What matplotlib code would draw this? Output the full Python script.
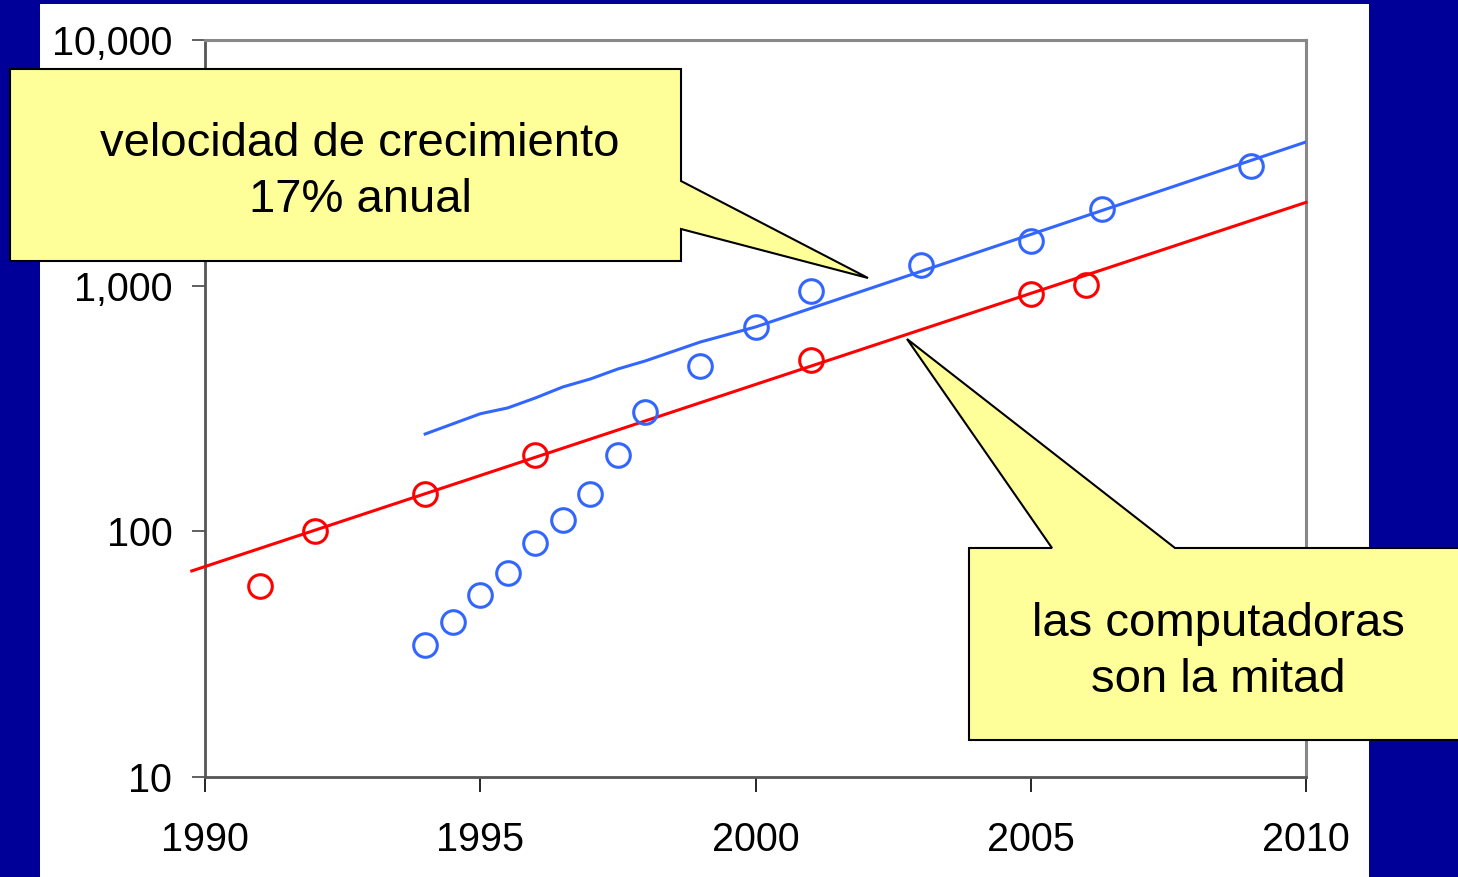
import matplotlib as mpl
import matplotlib.pyplot as plt
from matplotlib.patches import Polygon, Rectangle
from matplotlib.ticker import FixedLocator, FuncFormatter, NullLocator

mpl.rcParams['font.family'] = ['Liberation Sans', 'DejaVu Sans']

# datos
rojo_x = [1991, 1992, 1994, 1996, 2001, 2005, 2006]
rojo_y = [60, 100, 142, 205, 498, 925, 1006]
azul_x = [1994, 1994.5, 1995, 1995.5, 1996, 1996.5, 1997, 1997.5, 1998, 1999, 2000, 2001, 2003, 2005, 2006.3, 2009]
azul_y = [34.5, 42.8, 55, 67.7, 89.6, 111, 142, 205, 306, 471, 679, 951, 1213, 1520, 2050, 3070]
tend_rojo_x = [1989.76, 2010]
tend_rojo_y = [69, 2183]
tend_azul_x = [1994, 1995, 1995.5, 1996, 1996.5, 1997, 1997.5, 1998, 1999, 2000, 2010]
tend_azul_y = [249, 301, 318, 349, 387, 417, 458, 494, 590, 679, 3846]
anios = [1990, 1995, 2000, 2005, 2010]
niveles = [10, 100, 1000, 10000]

W, H = 1458, 877
AZUL = '#3366FF'
ROJO = '#FF0000'
AMARILLO = '#FFFF99'

fig = plt.figure(figsize=(W / 100, H / 100), dpi=100, facecolor='#000099')


def px(x, y):
    return (x / W, 1 - y / H)


# panel blanco
fig.add_artist(Rectangle(px(40, 877), 1329 / W, 873 / H, transform=fig.transFigure,
                         facecolor='white', edgecolor='none', zorder=-1))

ax = fig.add_axes([205 / W, 1 - 777 / H, 1101 / W, 737 / H])
ax.set_facecolor('white')
ax.set_yscale('log')
ax.set_xlim(1990, 2010)
ax.set_ylim(10, 10000)

ax.plot(tend_rojo_x, tend_rojo_y, color=ROJO, lw=2.2, clip_on=False, zorder=3)
ax.plot(tend_azul_x, tend_azul_y, color=AZUL, lw=2.2, zorder=3)
ax.plot(rojo_x, rojo_y, 'o', mfc='none', mec=ROJO, ms=17, mew=2.2, zorder=4)
ax.plot(azul_x, azul_y, 'o', mfc='none', mec=AZUL, ms=17, mew=2.2, zorder=4)

ax.xaxis.set_major_locator(FixedLocator(anios))
ax.yaxis.set_major_locator(FixedLocator(niveles))
ax.yaxis.set_minor_locator(NullLocator())
ax.yaxis.set_major_formatter(FuncFormatter(lambda v, p: f'{int(v):,}'))
ax.xaxis.set_major_formatter(FuncFormatter(lambda v, p: f'{int(v)}'))
ax.tick_params(axis='y', direction='out', length=9.5, width=1.2, color='#444444',
               labelsize=28.5, pad=14)
ax.tick_params(axis='x', direction='out', length=10.5, width=1.2, color='black',
               labelsize=28.5, pad=21)

for s in ['top', 'right']:
    ax.spines[s].set_color('#888888')
    ax.spines[s].set_linewidth(2.2)
for s in ['left', 'bottom']:
    ax.spines[s].set_color('#555555')
    ax.spines[s].set_linewidth(2.0)

# globos de texto
globo1 = [(10, 69), (681, 69), (681, 181), (868, 278), (681, 229), (681, 261), (10, 261)]
globo2 = [(969, 548), (1052, 548), (907, 339), (1175, 548), (1470, 548), (1470, 740), (969, 740)]
for g in (globo1, globo2):
    fig.add_artist(Polygon([px(*p) for p in g], closed=True, transform=fig.transFigure,
                           facecolor=AMARILLO, edgecolor='black', lw=1.5, zorder=10))

fig.text(*px(360, 172), 'velocidad de crecimiento\n17% anual', ha='center', va='center',
         multialignment='center', fontsize=34, linespacing=1.37, zorder=11)
fig.text(*px(1218, 652), 'las computadoras\nson la mitad', ha='center', va='center',
         multialignment='center', fontsize=34, linespacing=1.37, zorder=11)

fig.savefig('out.png', dpi=100, facecolor=fig.get_facecolor())
